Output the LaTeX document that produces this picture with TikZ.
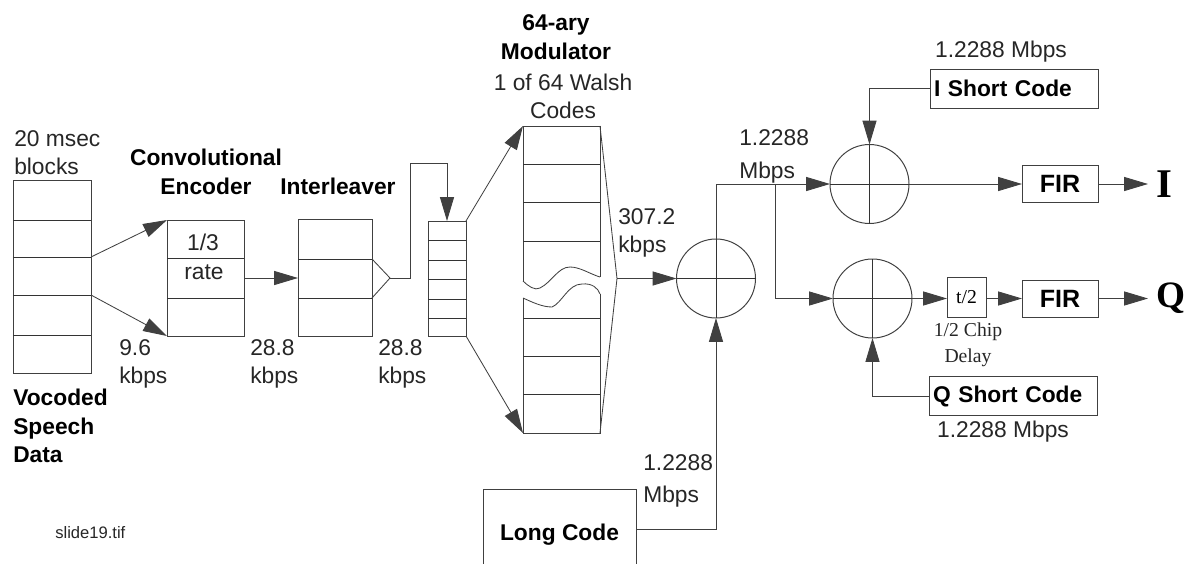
\documentclass[tikz,border=0pt]{standalone}
\usepackage{fontspec}
\setsansfont{Liberation Sans}
\setmainfont{Liberation Serif}
\usetikzlibrary{arrows.meta}

\begin{document}
\begin{tikzpicture}[
            x=0.25mm,
            y=-0.25mm,
            every node/.style={font=\sffamily},
            block/.style={
                rectangle,
                draw=black!75,
                line width=0.6pt,
                inner sep=0pt,
                outer sep=0pt
            },
            codebox/.style={
                block,
                minimum width=42mm,
                minimum height=9.75mm,
                text width=40mm,
                inner xsep=1mm,
                align=left,
                font=\sffamily\bfseries\fontsize{16.2}{19}\selectfont
            },
            firbox/.style={
                block,
                minimum width=19mm,
                minimum height=9.25mm,
                font=\sffamily\bfseries\fontsize{17.8}{19}\selectfont
            },
            mixer/.style={
                circle,
                draw=black!75,
                line width=0.7pt,
                minimum size=19.75mm,
                inner sep=0pt,
                outer sep=0pt
            },
            rule/.style={
                draw=black!80,
                line width=0.6pt
            },
            wire/.style={
                draw=black!75,
                line width=0.6pt
            },
            arrow/.style={
                wire,
                -{Triangle[length=17pt,width=10pt]}
            },
            title/.style={
                inner sep=0pt,
                align=center,
                font=\sffamily\bfseries\fontsize{16.2}{20.5}\selectfont
            },
            rate/.style={
                inner sep=0pt,
                align=left,
                text=black!85,
                font=\sffamily\fontsize{16.2}{20}\selectfont
            },
            output/.style={
                anchor=west,
                inner ysep=0pt,
                inner xsep=5.5pt,
                font=\rmfamily\bfseries\fontsize{29}{29}\selectfont
            }
        ]
            \clip (0,0) rectangle (1184,563);

            % Speech blocks
            \node[block, minimum width=19.5mm, minimum height=48.25mm] (speech) at (52,276.5) {};
            \draw[rule] (speech.west |- 0,220) -- (speech.east |- 0,220);
            \draw[rule] (speech.west |- 0,257) -- (speech.east |- 0,257);
            \draw[rule] (speech.west |- 0,295) -- (speech.east |- 0,295);
            \draw[rule] (speech.west |- 0,335) -- (speech.east |- 0,335);
            \coordinate (speechup) at (speech.east |- 0,257);
            \coordinate (speechdown) at (speech.east |- 0,295);

            % Encoder
            \node[block, minimum width=19.25mm, minimum height=29mm] (encoder) at (205.5,278) {};
            \draw[rule] (encoder.west |- 0,258) -- (encoder.east |- 0,258);
            \draw[rule] (encoder.west |- 0,298) -- (encoder.east |- 0,298);

            % Interleaver
            \node[block, minimum width=18.5mm, minimum height=29.25mm] (interleaver) at (335,278) {};
            \draw[rule] (interleaver.west |- 0,259) -- (interleaver.east |- 0,259);
            \draw[rule] (interleaver.west |- 0,298) -- (interleaver.east |- 0,298);
            \coordinate (fanup) at (interleaver.east |- 0,259);
            \coordinate (fandown) at (interleaver.east |- 0,298);
            \coordinate (fanjoin) at (390,278);

            % Small stack
            \node[block, minimum width=9.5mm, minimum height=28.75mm] (stack) at (447,278.5) {};
            \draw[rule] (stack.west |- 0,240) -- (stack.east |- 0,240);
            \draw[rule] (stack.west |- 0,260) -- (stack.east |- 0,260);
            \draw[rule] (stack.west |- 0,279) -- (stack.east |- 0,279);
            \draw[rule] (stack.west |- 0,299) -- (stack.east |- 0,299);
            \draw[rule] (stack.west |- 0,318) -- (stack.east |- 0,318);

            % Walsh codes
            \coordinate (walshtop) at (523,126);
            \coordinate (walshbot) at (523,433);
            \coordinate (walshright) at (600,126);
            \coordinate (walshleft) at (600,433);
            \coordinate (walshout) at (617,278.5);
            \draw[wire] (523,281) -- (walshtop) -- (walshright) -- (600,277);
            \draw[wire] (523,298) -- (walshbot) -- (walshleft) -- (600,294);
            \draw[wire] (523,281) .. controls (528,286) and (535,291) .. (540,288) .. controls (552,282) and (558,267) .. (570,267) .. controls (580,267) and (590,274) .. (600,277);
            \draw[wire] (523,298) .. controls (532,302) and (542,307) .. (552,307) .. controls (562,303) and (568,284) .. (582,284) .. controls (592,283) and (598,288) .. (600,294);
            \draw[rule] (walshtop |- 0,164) -- (walshright |- 0,164);
            \draw[rule] (walshtop |- 0,202) -- (walshright |- 0,202);
            \draw[rule] (walshtop |- 0,241) -- (walshright |- 0,241);
            \draw[rule] (walshtop |- 0,318) -- (walshright |- 0,318);
            \draw[rule] (walshtop |- 0,356) -- (walshright |- 0,356);
            \draw[rule] (walshtop |- 0,394) -- (walshright |- 0,394);
            \draw[wire] (walshright) -- (walshout) -- (walshleft);

            % Mixers
            \node[mixer] (longmix) at (716,278.5) {};
            \node[mixer] (imix) at (869.5,184) {};
            \node[mixer] (qmix) at (872.5,298.5) {};
            \draw[rule] (longmix.north) -- (longmix.south);
            \draw[rule] (longmix.west) -- (longmix.east);
            \draw[rule] (imix.north) -- (imix.south);
            \draw[rule] (imix.west) -- (imix.east);
            \draw[rule] (qmix.north) -- (qmix.south);
            \draw[rule] (qmix.west) -- (qmix.east);

            % Code boxes
            \node[codebox] (ishort) at (1014,88.5) {I Short Code};
            \node[codebox] (qshort) at (1013,396) {Q Short Code};
            \node[block, minimum width=38.25mm, minimum height=23mm, font=\sffamily\bfseries\fontsize{16.2}{19}\selectfont] (longcode) at (559.5,535) {Long Code};

            % Output chain
            \node[firbox] (ifir) at (1060,184) {FIR};
            \node[firbox] (qfir) at (1060,298.5) {FIR};
            \node[block, minimum width=9.75mm, minimum height=10mm, font=\rmfamily\fontsize{14}{16}\selectfont] (delay) at (966.5,297) {t/2};
            \node[output] (iout) at (1148,184) {I};
            \node[output, font=\rmfamily\bfseries\fontsize{26.5}{29}\selectfont] (qout) at (1148,298.5) {Q};

            % Coordinates for the bends
            \coordinate (branch) at (775,184);
            \coordinate (branchlow) at (775,298.5);

            % Connections
            \draw[arrow] (speechup) -- (encoder.north west);
            \draw[arrow] (speechdown) -- (encoder.south west);
            \draw[arrow] (encoder.east) -- (interleaver.west);
            \draw[wire] (fanup) -- (fanjoin);
            \draw[wire] (fandown) -- (fanjoin);
            \draw[arrow] (fanjoin) -- (410,278) -- (410,163) -- (447,163) -- (stack.north);
            \draw[arrow] (stack.north east) -- (walshtop);
            \draw[arrow] (stack.south east) -- (walshbot);
            \draw[arrow] (walshout) -- (longmix.west);
            \draw[wire] (longmix.north) -- (716,184) -- (branch);
            \draw[arrow] (branch) -- (imix.west);
            \draw[wire] (branch) -- (branchlow);
            \draw[arrow] (branchlow) -- (qmix.west);
            \draw[arrow] (longcode.east |- 0,529) -- (716,529) -- (longmix.south);
            \draw[arrow] (ishort.west) -| (imix.north);
            \draw[arrow] (qshort.west) -| (qmix.south);
            \draw[arrow] (imix.east) -- (ifir.west);
            \draw[arrow] (qmix.east) -- (delay.west |- qmix.east);
            \draw[arrow] (delay.east |- qfir.west) -- (qfir.west);
            \draw[arrow] (ifir.east) -- (iout.west);
            \draw[arrow] (qfir.east) -- (qout.west);

            % Titles
            \node[title, anchor=west, align=left] (vocodedlabel) at (13,426) {Vocoded\\Speech\\Data};
            \node[title] (encoderlabel) at (206,172) {Convolutional\\Encoder};
            \node[title] (interleaverlabel) at (338,186) {Interleaver};
            \node[title] (modulatorlabel) at (556,37) {64-ary\\Modulator};

            % Rates
            \node[rate, anchor=west] (blockslabel) at (14,153) {20 msec\\blocks};
            \node[rate, align=center] (thirdlabel) at (203,242) {1/3};
            \node[rate, align=center] (ratelabel) at (204,272) {rate};
            \node[rate, anchor=west] (ratea) at (119,364) {9.6\\kbps};
            \node[rate, anchor=west] (rateb) at (250,364) {28.8\\kbps};
            \node[rate, anchor=west] (ratec) at (378,364) {28.8\\kbps};
            \node[rate, align=center] (walshlabel) at (563,96) {1 of 64 Walsh\\Codes};
            \node[rate, anchor=west] (rated) at (618,233) {307.2\\kbps};
            \node[rate, anchor=west] (ratee) at (739,156.5) {1.2288\\[3pt]Mbps};
            \node[rate, anchor=west] (ratef) at (643,481) {1.2288\\[3pt]Mbps};
            \node[rate, align=center] (rateg) at (1001,52) {1.2288 Mbps};
            \node[rate, align=center] (rateh) at (1003,432) {1.2288 Mbps};
            \node[inner sep=0pt, align=center, text=black!85, font=\rmfamily\fontsize{14}{18.5}\selectfont] (delaylabel) at (968,345) {1/2 Chip\\Delay};
            \node[anchor=west, inner sep=0pt, text=black!85, font=\sffamily\fontsize{11.8}{13}\selectfont] (filelabel) at (55,533) {slide19.tif};
        \end{tikzpicture}
\end{document}
